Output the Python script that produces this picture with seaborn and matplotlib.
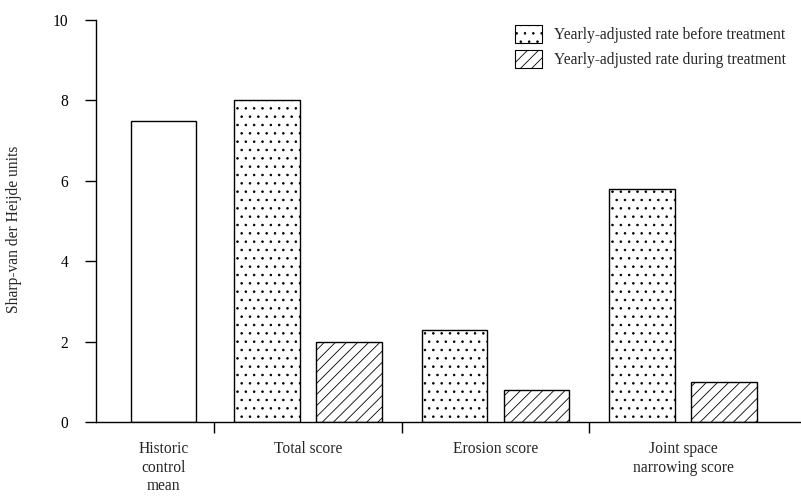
import matplotlib
matplotlib.use("Agg")
import matplotlib.pyplot as plt
from matplotlib.patches import Patch
import seaborn as sns
import pandas as pd

# ---- data ----
historic_label = "Historic\ncontrol\nmean"
historic_value = 7.5
groups = ["Total score", "Erosion score", "Joint space\nnarrowing score"]
before_values = [8.0, 2.3, 5.8]
during_values = [2.0, 0.8, 1.0]
series_names = ["Historic control mean",
                "Yearly-adjusted rate before treatment",
                "Yearly-adjusted rate during treatment"]
y_ticks = [0, 2, 4, 6, 8, 10]

# ---- layout helpers (positions) ----
group_centers = [1, 2, 3]
historic_pos = 0.229
offset = 0.219

rows = [{"pos": historic_pos, "value": historic_value, "series": series_names[0]}]
for c, b, d in zip(group_centers, before_values, during_values):
    rows.append({"pos": c - offset, "value": b, "series": series_names[1]})
    rows.append({"pos": c + offset, "value": d, "series": series_names[2]})
df = pd.DataFrame(rows)

FS = 11.2
sns.set_theme(style="white")
plt.rcParams["font.family"] = ["Liberation Serif", "DejaVu Serif"]
plt.rcParams["hatch.linewidth"] = 0.6
plt.rcParams["hatch.color"] = "black"

fig = plt.figure(figsize=(8.01, 4.97), dpi=100)
ax = fig.add_axes([96 / 801, 75 / 497, 704 / 801, 402 / 497])

hatches = {series_names[0]: "", series_names[1]: "..", series_names[2]: "///"}
sns.barplot(data=df, x="pos", y="value", hue="series", hue_order=series_names,
            native_scale=True, dodge=False, width=0.8,
            palette=["white", "white", "white"], edgecolor="black",
            linewidth=1.0, legend=False, errorbar=None, ax=ax)

for cont, name in zip(ax.containers, series_names):
    for p in cont.patches:
        p.set_hatch(hatches[name])
        p.set_edgecolor("black")

ax.set_xlim(-0.131, 3.624)
ax.set_ylim(0, 10)
for s in ["top", "right"]:
    ax.spines[s].set_visible(False)
for s in ["left", "bottom"]:
    ax.spines[s].set_color("black")
    ax.spines[s].set_linewidth(1.0)

ax.set_yticks(y_ticks)
ax.set_yticklabels([str(t) for t in y_ticks], fontsize=FS)
ax.tick_params(axis="y", direction="out", length=8, width=1.0, pad=12,
               left=True, colors="black")

ax.set_xticks([0.5, 1.5, 2.5])
ax.set_xticklabels(["", "", ""])
ax.tick_params(axis="x", which="major", direction="out", length=8, width=1.0,
               bottom=True, colors="black")
ax.set_xticks([historic_pos] + group_centers, minor=True)
ax.set_xticklabels([historic_label] + groups, minor=True, fontsize=FS,
                   linespacing=1.2)
ax.tick_params(axis="x", which="minor", length=0, pad=14)
ax.set_xlabel("")

ax.set_ylabel("Sharp-van der Heijde units", fontsize=FS)
ax.yaxis.set_label_coords(-0.105, 0.48)

handles = [Patch(facecolor="white", edgecolor="black", hatch="..", linewidth=0.8),
           Patch(facecolor="white", edgecolor="black", hatch="///", linewidth=0.8)]
fig.legend(handles, series_names[1:], loc="upper left",
           bbox_to_anchor=(515 / 801, 1 - 25 / 497), frameon=False,
           fontsize=FS, borderpad=0, borderaxespad=0, handlelength=1.75,
           handleheight=1.4, handletextpad=0.75, labelspacing=0.45)

fig.savefig("out.png", dpi=100)
